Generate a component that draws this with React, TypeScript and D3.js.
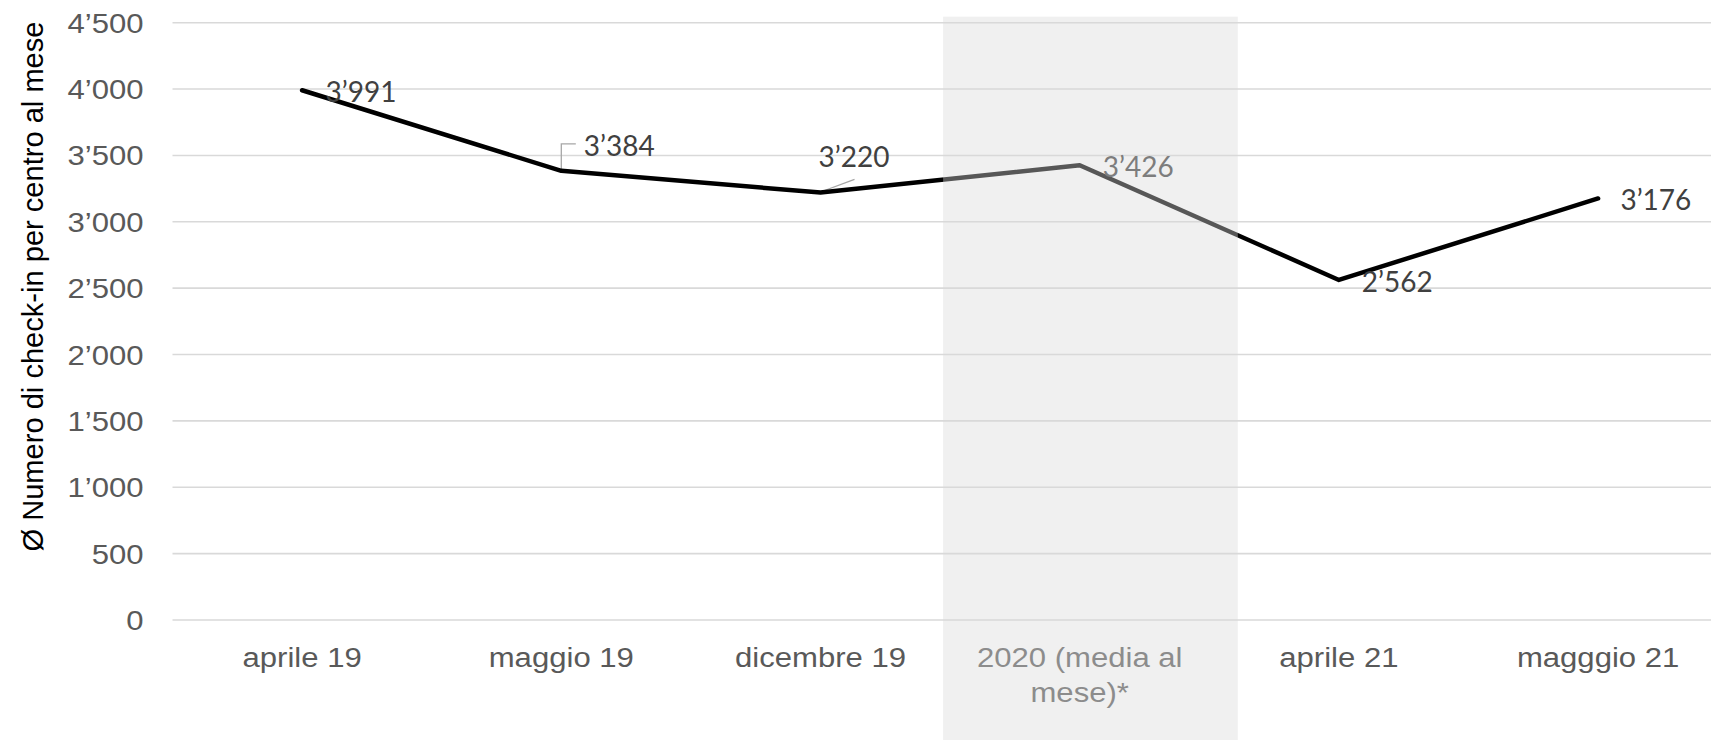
import React from "react";
import * as d3 from "d3";

const categories: string[][] = [
  ["aprile 19"],
  ["maggio 19"],
  ["dicembre 19"],
  ["2020 (media al", "mese)*"],
  ["aprile 21"],
  ["magggio 21"],
];
const values: number[] = [3991, 3384, 3220, 3426, 2562, 3176];
const valueLabels: string[] = ["3’991", "3’384", "3’220", "3’426", "2’562", "3’176"];
const yTicks: number[] = [0, 500, 1000, 1500, 2000, 2500, 3000, 3500, 4000, 4500];
const yTickLabels: string[] = ["0", "500", "1’000", "1’500", "2’000", "2’500", "3’000", "3’500", "4’000", "4’500"];
const yTitle = "Ø Numero di check-in per centro al mese";
const highlightIndex = 3;

// layout (not data)
const W = 1711;
const H = 740;
const labelOffsets: [number, number][] = [
  [23.5, 11.4],
  [22.4, -15],
  [-2, -26],
  [23, 12],
  [22.8, 11.7],
  [22.3, 11.6],
];
const leaders: ([number, number][] | null)[] = [
  null,
  [[0, 0], [0, -27], [14.5, -27]],
  [[0, -0.6], [34, -13.3]],
  null,
  null,
  null,
];
const SX = 1.11;

export default function App() {
  const x = d3
    .scaleBand<number>()
    .domain(d3.range(categories.length))
    .range([172.5, 1727.7])
    .padding(0);
  const cx = (i: number) => (x(i) as number) + x.bandwidth() / 2;
  const y = d3.scaleLinear().domain([0, 4500]).range([620, 22.7]);
  const step = x.step();

  const line = d3
    .line<number>()
    .x((_, i) => cx(i))
    .y((d) => y(d));

  const tickFont = "'Liberation Sans', Arial, sans-serif";
  const labelFont = "Lato, 'Open Sans', sans-serif";

  const bandX0 = cx(highlightIndex) - 0.527 * step;
  const bandX1 = cx(highlightIndex) + 0.61 * step;

  return (
    <svg
      width={W}
      height={H}
      style={{ position: "absolute", left: 0, top: 0, background: "#fff" }}
    >
      <rect x={0} y={0} width={W} height={H} fill="#ffffff" />
      {/* gridlines */}
      {yTicks.map((t) => (
        <line
          key={t}
          x1={172.5}
          x2={W}
          y1={y(t)}
          y2={y(t)}
          stroke="#d9d9d9"
          strokeWidth={1.6}
        />
      ))}
      {/* y tick labels */}
      {yTicks.map((t, i) => (
        <text
          key={"yl" + t}
          transform={`translate(143.5,${y(t) + 10}) scale(${SX},1)`}
          textAnchor="end"
          fontFamily={tickFont}
          fontSize={28}
          fill="#595959"
        >
          {yTickLabels[i]}
        </text>
      ))}
      {/* y title */}
      <text
        transform={`translate(43.3,286.5) scale(${SX},1) rotate(-90)`}
        textAnchor="middle"
        fontFamily={tickFont}
        fontSize={27}
        fill="#000000"
        textLength={530}
        lengthAdjust="spacingAndGlyphs"
      >
        {yTitle}
      </text>
      {/* x labels */}
      {categories.map((lines, i) =>
        lines.map((ln, j) => (
          <text
            key={"xl" + i + "-" + j}
            transform={`translate(${cx(i)},${667.3 + j * 34.4}) scale(${SX},1)`}
            textAnchor="middle"
            fontFamily={tickFont}
            fontSize={28}
            fill="#595959"
          >
            {ln}
          </text>
        ))
      )}
      {/* leaders */}
      {leaders.map((pts, i) =>
        pts ? (
          <polyline
            key={"ld" + i}
            points={pts.map(([dx, dy]) => `${cx(i) + dx},${y(values[i]) + dy}`).join(" ")}
            fill="none"
            stroke="#a6a6a6"
            strokeWidth={1.3}
          />
        ) : null
      )}
      {/* line */}
      <path
        d={line(values) as string}
        fill="none"
        stroke="#000000"
        strokeWidth={4.5}
        strokeLinejoin="round"
        strokeLinecap="round"
      />
      {/* data labels */}
      {values.map((v, i) => (
        <text
          key={"dl" + i}
          x={cx(i) + labelOffsets[i][0]}
          y={y(v) + labelOffsets[i][1]}
          fontFamily={labelFont}
          fontSize={28}
          fill="#404040"
        >
          {valueLabels[i]}
        </text>
      ))}
      {/* highlight overlay */}
      <rect
        x={bandX0}
        y={16.7}
        width={bandX1 - bandX0}
        height={H - 16.7}
        fill="#d9d9d9"
        fillOpacity={0.4}
      />
    </svg>
  );
}
